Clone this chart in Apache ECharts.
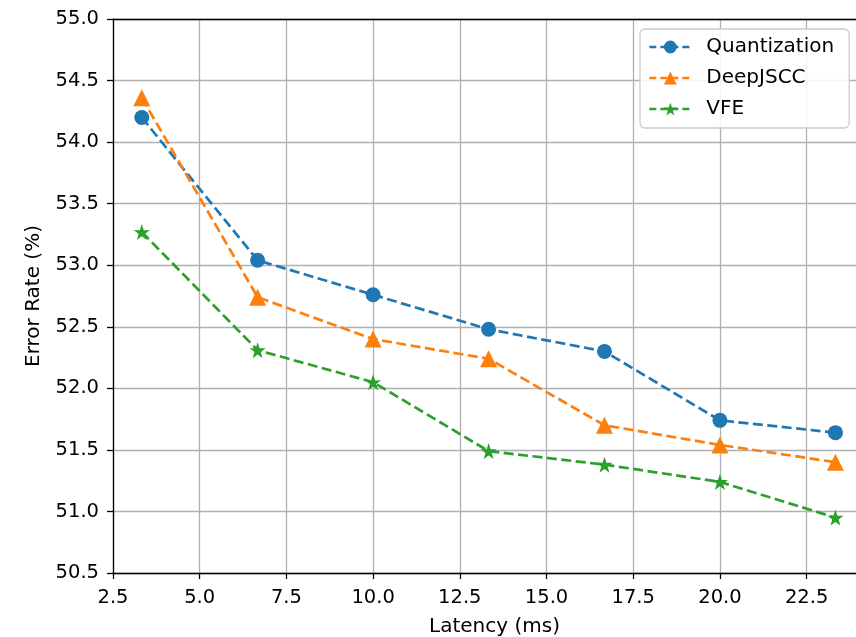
<!DOCTYPE html>
<html>
<head>
<meta charset="utf-8">
<script src="https://cdn.jsdelivr.net/npm/echarts@6/dist/echarts.min.js"></script>
<style>
  html, body { margin: 0; padding: 0; background: #fff; }
  #chart { width: 856px; height: 637px; }
</style>
</head>
<body>
<div id="chart"></div>
<script>
const latency = [3.33, 6.67, 10.0, 13.33, 16.67, 20.0, 23.33];
const quantization = [54.2, 53.04, 52.76, 52.48, 52.3, 51.74, 51.64];
const deepJSCC = [54.36, 52.74, 52.4, 52.24, 51.7, 51.54, 51.4];
const vfe = [53.27, 52.31, 52.05, 51.49, 51.38, 51.24, 50.95];

const seriesNames = ['Quantization', 'DeepJSCC', 'VFE'];
const colors = ['#1f77b4', '#ff7f0e', '#2ca02c'];

const starPath = 'path://M50,0 L61.8,35.1 L97.6,34.5 L68.8,56 L79.4,90.5 L50,70 L20.6,90.5 L31.2,56 L2.4,34.5 L38.2,35.1 Z';

const pairs = (ys) => latency.map((x, i) => [x, ys[i]]);
const fontFamily = '"DejaVu Sans", sans-serif';

const makeSeries = (name, ys, color, symbol, size) => ({
  name,
  type: 'line',
  data: pairs(ys),
  symbol,
  symbolSize: size,
  showSymbol: true,
  lineStyle: { color, width: 2.7, type: [10, 4.5] },
  itemStyle: { color },
  emphasis: { disabled: true },
  z: 3
});

const axisFont = { fontFamily, fontSize: 19.5, color: '#000' };

const chart = echarts.init(document.getElementById('chart'));
chart.setOption({
  animation: false,
  textStyle: { fontFamily },
  grid: {
    left: 113,
    right: -20,
    top: 19,
    bottom: 637 - 573,
    outerBoundsMode: 'none',
    containLabel: false,
    show: false
  },
  legend: {
    left: 640,
    top: 29,
    orient: 'vertical',
    itemWidth: 42,
    itemHeight: 16,
    itemGap: 11,
    padding: [8, 15, 9, 8],
    backgroundColor: 'rgba(255,255,255,0.85)',
    borderColor: '#cccccc',
    borderWidth: 1.3,
    borderRadius: 5,
    lineStyle: { width: 2.7, type: [7, 4] },
    textStyle: { fontFamily, fontSize: 20, color: '#000', padding: [0, 0, 0, 10] },
    data: seriesNames
  },
  xAxis: [
    {
      type: 'value',
      min: 2.5,
      max: 24.5,
      interval: 2.5,
      name: 'Latency (ms)',
      nameLocation: 'middle',
      nameGap: 44,
      nameTextStyle: { fontFamily, fontSize: 20, color: '#000' },
      axisLine: { show: true, onZero: false, lineStyle: { color: '#000', width: 1.3 } },
      axisTick: { show: true, length: 6, lineStyle: { color: '#000', width: 1.3 } },
      axisLabel: Object.assign({}, axisFont, {
        margin: 15,
        formatter: (v) => (Math.abs(v / 2.5 - Math.round(v / 2.5)) < 1e-6 ? v.toFixed(1) : '')
      }),
      splitLine: { show: true, lineStyle: { color: '#b0b0b0', width: 1.3 } }
    },
    {
      type: 'value',
      position: 'top',
      min: 2.5,
      max: 24.5,
      interval: 2.5,
      axisLine: { show: true, onZero: false, lineStyle: { color: '#000', width: 1.3 } },
      axisTick: { show: false },
      axisLabel: { show: false },
      splitLine: { show: false }
    }
  ],
  yAxis: {
    type: 'value',
    min: 50.5,
    max: 55.0,
    interval: 0.5,
    name: 'Error Rate (%)',
    nameLocation: 'middle',
    nameGap: 69,
    nameTextStyle: { fontFamily, fontSize: 20, color: '#000' },
    axisLine: { show: true, onZero: false, lineStyle: { color: '#000', width: 1.3 } },
    axisTick: { show: true, length: 6, lineStyle: { color: '#000', width: 1.3 } },
    axisLabel: Object.assign({}, axisFont, {
      margin: 14,
      formatter: (v) => v.toFixed(1)
    }),
    splitLine: { show: true, lineStyle: { color: '#b0b0b0', width: 1.3 } }
  },
  series: [
    makeSeries(seriesNames[0], quantization, colors[0], 'circle', 15),
    makeSeries(seriesNames[1], deepJSCC, colors[1], 'triangle', 17),
    makeSeries(seriesNames[2], vfe, colors[2], starPath, 16)
  ]
});
</script>
</body>
</html>
